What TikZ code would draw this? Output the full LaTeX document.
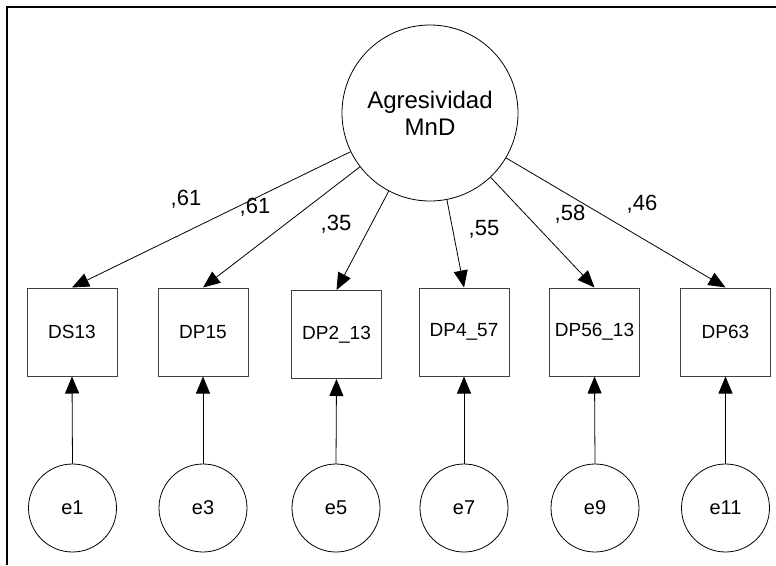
\documentclass[tikz,border=0pt]{standalone}
\usepackage{fontspec}
\setmainfont{Liberation Sans}
\usetikzlibrary{arrows.meta, shapes, positioning}

\begin{document}
\begin{tikzpicture}[x=1pt, y=-1pt,
  latente/.style={circle, draw, line width=0.8pt, minimum size=176pt, inner sep=0pt,
                  align=center, font=\fontsize{24}{27}\selectfont},
  obs/.style={rectangle, draw=black!75, line width=1pt, minimum width=90pt,
              minimum height=88pt, inner sep=0pt, font=\fontsize{19}{22}\selectfont},
  err/.style={circle, draw, line width=0.8pt, minimum size=88pt, inner sep=0pt,
              font=\fontsize{20}{24}\selectfont},
  flecha/.style={-{Triangle[length=17pt, width=14pt]}, line width=0.8pt},
  coef/.style={anchor=base, inner sep=0pt, font=\fontsize{22}{24}\selectfont}]
\useasboundingbox (0,0) rectangle (776,565);
% 外框
\draw[line width=1.5pt] (776,7) -- (7,7) -- (7,565);

% 潜变量
\node[latente] (agr) at (430,113) {Agresividad\\MnD};

% 观测变量
\node[obs] (ds13)   at (72,332)    {DS13};
\node[obs] (dp15)   at (203,332)   {DP15};
\node[obs] (dp213)  at (336.5,334.5) {DP2\_13};
\node[obs] (dp457)  at (464,332)   {DP4\_57};
\node[obs] (dp5613) at (594.5,332) {DP56\_13};
\node[obs] (dp63)   at (725.5,332) {DP63};

% 误差项
\node[err] (e1)  at (72.5,508)  {e1};
\node[err] (e3)  at (203,508)   {e3};
\node[err] (e5)  at (336,508)   {e5};
\node[err] (e7)  at (464,508)   {e7};
\node[err] (e9)  at (595,508)   {e9};
\node[err] (e11) at (725.5,508) {e11};

% 载荷
\draw[flecha] (agr) -- (ds13.north);
\draw[flecha] (agr) -- (dp15.north);
\draw[flecha] (agr) -- (dp213.north);
\draw[flecha] (agr) -- (dp457.north);
\draw[flecha] (agr) -- (dp5613.north);
\draw[flecha] (agr) -- (dp63.north);

\draw[flecha] (e1.north)  -- (ds13.south);
\draw[flecha] (e3.north)  -- (dp15.south);
\draw[flecha] (e5.north)  -- (dp213.south);
\draw[flecha] (e7.north)  -- (dp457.south);
\draw[flecha] (e9.north)  -- (dp5613.south);
\draw[flecha] (e11.north) -- (dp63.south);

% 系数
\node[coef] (c1) at (186,205) {,61};
\node[coef] (c2) at (255,213) {,61};
\node[coef] (c3) at (336,230) {,35};
\node[coef] (c4) at (484,235) {,55};
\node[coef] (c5) at (570,220) {,58};
\node[coef] (c6) at (642,210) {,46};
\end{tikzpicture}
\end{document}
